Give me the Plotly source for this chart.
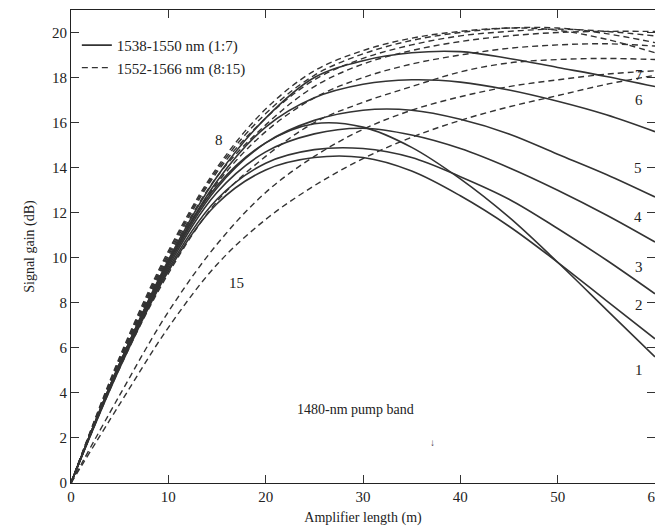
import plotly.graph_objects as go

# Amplifier length (m)
length_m = [0, 5, 10, 15, 20, 25, 30, 35, 40, 45, 50, 55, 60]

# Solid curves 1..7 (1538-1550 nm)
gain_1 = [0, 5.3, 9.8, 13.2, 15.1, 15.95, 15.8, 14.9, 13.5, 11.8, 9.8, 7.7, 5.6]
gain_2 = [0, 5.1, 9.4, 12.4, 13.9, 14.45, 14.45, 13.85, 12.75, 11.4, 9.8, 8.1, 6.4]
gain_3 = [0, 5.2, 9.5, 12.6, 14.2, 14.8, 14.85, 14.45, 13.6, 12.6, 11.3, 9.9, 8.4]
gain_4 = [0, 5.2, 9.6, 12.9, 14.7, 15.5, 15.75, 15.45, 14.85, 14.0, 13.0, 11.9, 10.7]
gain_5 = [0, 5.3, 9.7, 13.1, 15.1, 16.1, 16.55, 16.55, 16.15, 15.5, 14.6, 13.7, 12.7]
gain_6 = [0, 5.3, 9.8, 13.4, 15.8, 17.1, 17.7, 17.9, 17.8, 17.45, 16.95, 16.35, 15.6]
gain_7 = [0, 5.3, 9.9, 13.6, 16.2, 18.0, 18.75, 19.1, 19.15, 18.85, 18.45, 18.05, 17.6]

# Dashed curves 8..15 (1552-1566 nm)
gain_8 = [0, 5.6, 10.3, 14.0, 16.6, 18.3, 19.2, 19.75, 20.05, 20.2, 20.1, 19.7, 19.1]
gain_9 = [0, 5.5, 10.2, 13.9, 16.4, 18.1, 19.05, 19.65, 20.0, 20.2, 20.2, 19.95, 19.55]
gain_10 = [0, 5.5, 10.1, 13.8, 16.2, 17.9, 18.85, 19.45, 19.85, 20.05, 20.15, 20.05, 19.85]
gain_11 = [0, 5.4, 10.0, 13.6, 15.9, 17.6, 18.6, 19.2, 19.6, 19.85, 20.0, 20.05, 20.05]
gain_12 = [0, 5.4, 9.9, 13.3, 15.6, 17.1, 18.0, 18.6, 19.0, 19.3, 19.45, 19.5, 19.4]
gain_13 = [0, 5.1, 9.3, 12.5, 14.5, 16.0, 16.9, 17.6, 18.25, 18.65, 18.8, 18.85, 18.8]
gain_14 = [0, 3.9, 7.6, 10.6, 12.9, 14.5, 15.7, 16.55, 17.15, 17.6, 17.9, 18.15, 18.3]
gain_15 = [0, 3.5, 6.9, 9.7, 11.7, 13.2, 14.4, 15.35, 16.1, 16.7, 17.2, 17.7, 18.1]

solid_curves = [gain_1, gain_2, gain_3, gain_4, gain_5, gain_6, gain_7]
dashed_curves = [gain_8, gain_9, gain_10, gain_11, gain_12, gain_13, gain_14, gain_15]

legend_names = ["1538-1550 nm (1:7)", "1552-1566 nm (8:15)"]

# Curve labels
label_text = ["8", "15", "7", "6", "5", "4", "3", "2", "1"]
label_x = [15.2, 17.0, 58.4, 58.4, 58.3, 58.3, 58.4, 58.4, 58.4]
label_y = [15.25, 8.9, 18.1, 17.0, 14.0, 11.8, 9.6, 7.9, 5.0]

line_color = "#333333"
font_family = "Liberation Serif, Times New Roman, serif"

fig = go.Figure()
for i, g in enumerate(solid_curves):
    fig.add_trace(go.Scatter(
        x=length_m, y=g, mode="lines", line=dict(color=line_color, width=1.6, shape="spline"),
        name=legend_names[0], showlegend=(i == 0), legendrank=1))
for i, g in enumerate(dashed_curves):
    fig.add_trace(go.Scatter(
        x=length_m, y=g, mode="lines",
        line=dict(color=line_color, width=1.4, dash="6px,4px", shape="spline"),
        name=legend_names[1], showlegend=(i == 0), legendrank=2))

for t, lx, ly in zip(label_text, label_x, label_y):
    fig.add_annotation(x=lx, y=ly, text=t, showarrow=False,
                       font=dict(family=font_family, size=15, color="#222"))

fig.add_annotation(x=29.2, y=3.25, text="1480-nm pump band", showarrow=False,
                   font=dict(family=font_family, size=14, color="#222"))
fig.add_annotation(x=37.1, y=1.8, text="↓", showarrow=False,
                   font=dict(family=font_family, size=10, color="#444"))

axis_common = dict(showline=True, linecolor="#222", linewidth=1.2, mirror="ticks",
                   ticks="inside", ticklen=8, tickcolor="#333", tickwidth=1,
                   showgrid=False, zeroline=False, automargin=False,
                   tickfont=dict(family=font_family, size=15, color="#222"))

fig.update_xaxes(range=[0, 60], tickvals=[0, 10, 20, 30, 40, 50, 60],
                 title=dict(text="Amplifier length (m)", standoff=8,
                            font=dict(family=font_family, size=14, color="#222")),
                 **axis_common)
fig.update_yaxes(range=[0, 21.0], tickvals=[0, 2, 4, 6, 8, 10, 12, 14, 16, 18, 20],
                 title=dict(text="Signal gain (dB)", standoff=14,
                            font=dict(family=font_family, size=14, color="#222")),
                 **axis_common)

# The page body adds an 8 px offset, so the figure is sized/margined to place
# the plot frame where the reference has it.
fig.update_layout(
    width=655, height=524,
    margin=dict(l=63, r=8, t=2, b=49),
    paper_bgcolor="white", plot_bgcolor="white",
    font=dict(family=font_family, size=14, color="#222"),
    legend=dict(x=0.01, y=0.96, xanchor="left", yanchor="top",
                bgcolor="rgba(0,0,0,0)", tracegroupgap=0,
                font=dict(family=font_family, size=15, color="#222"),
                itemwidth=30),
)

fig.write_html("out.html")
